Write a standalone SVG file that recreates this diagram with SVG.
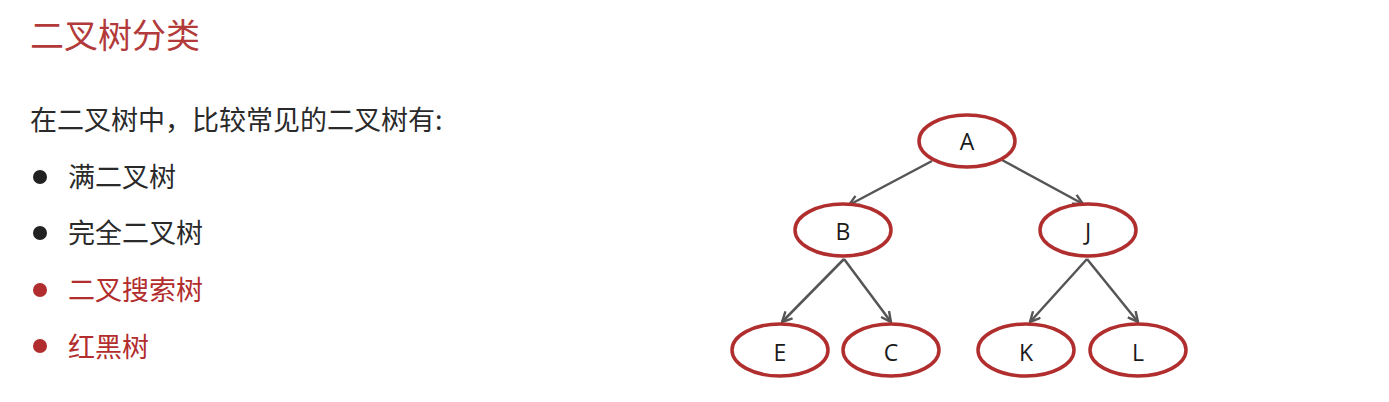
<svg xmlns="http://www.w3.org/2000/svg" width="1389" height="402" viewBox="0 0 1389 402">
<style>
.title{font-family:"Noto Sans CJK SC","Noto Sans",sans-serif;font-size:34px;fill:#b23a3a}
.body{font-family:"Noto Sans CJK SC","Noto Sans",sans-serif;font-size:27px;fill:#2a2a2a}
.red{fill:#b22d2d}
.node ellipse{fill:#fff;stroke:#b02e2e;stroke-width:3.5}
.node text{font-family:"Open Sans","Noto Sans",sans-serif;font-size:23px;fill:#1a1a1a;text-anchor:middle;dominant-baseline:central}
.edge{stroke:#555;stroke-width:2.5;fill:none;marker-end:url(#arr)}
</style>
<defs>
<marker id="arr" viewBox="0 0 12 12" refX="11" refY="6" markerWidth="12" markerHeight="12" markerUnits="userSpaceOnUse" orient="auto">
<polyline points="1,1 11,6 1,11" fill="none" stroke="#555" stroke-width="2.4"/>
</marker>
</defs>
<rect width="1389" height="402" fill="#fff"/>
<text class="title" x="30" y="48">二叉树分类</text>
<text class="body" x="30" y="130">在二叉树中，比较常见的二叉树有:</text>
<circle cx="40" cy="177" r="7" fill="#222"/>
<text class="body" x="68" y="187">满二叉树</text>
<circle cx="40" cy="233" r="7" fill="#222"/>
<text class="body" x="68" y="243">完全二叉树</text>
<circle cx="40" cy="290" r="7" fill="#b22d2d"/>
<text class="body red" x="68" y="300">二叉搜索树</text>
<circle cx="40" cy="346" r="7" fill="#b22d2d"/>
<text class="body red" x="68" y="357">红黑树</text>
<g id="edges">
<line class="edge" x1="932" y1="161" x2="849" y2="205"/>
<line class="edge" x1="1002" y1="160" x2="1083" y2="204"/>
<line class="edge" x1="844" y1="259" x2="782" y2="322"/>
<line class="edge" x1="844" y1="259" x2="891" y2="322"/>
<line class="edge" x1="1087" y1="259" x2="1030" y2="322"/>
<line class="edge" x1="1087" y1="259" x2="1138" y2="322"/>
</g>
<g id="nA" class="node"><ellipse cx="967" cy="141" rx="48" ry="26"/><text x="967" y="141">A</text></g>
<g id="nB" class="node"><ellipse cx="843" cy="230" rx="48" ry="26"/><text x="843" y="231">B</text></g>
<g id="nJ" class="node"><ellipse cx="1088" cy="230" rx="48" ry="26"/><text x="1088" y="231">J</text></g>
<g id="nE" class="node"><ellipse cx="780" cy="350" rx="48" ry="26"/><text x="780" y="352">E</text></g>
<g id="nC" class="node"><ellipse cx="891" cy="350" rx="48" ry="26"/><text x="891" y="352">C</text></g>
<g id="nK" class="node"><ellipse cx="1026" cy="350" rx="48" ry="26"/><text x="1026" y="352">K</text></g>
<g id="nL" class="node"><ellipse cx="1138" cy="350" rx="48" ry="26"/><text x="1138" y="352">L</text></g>
</svg>
